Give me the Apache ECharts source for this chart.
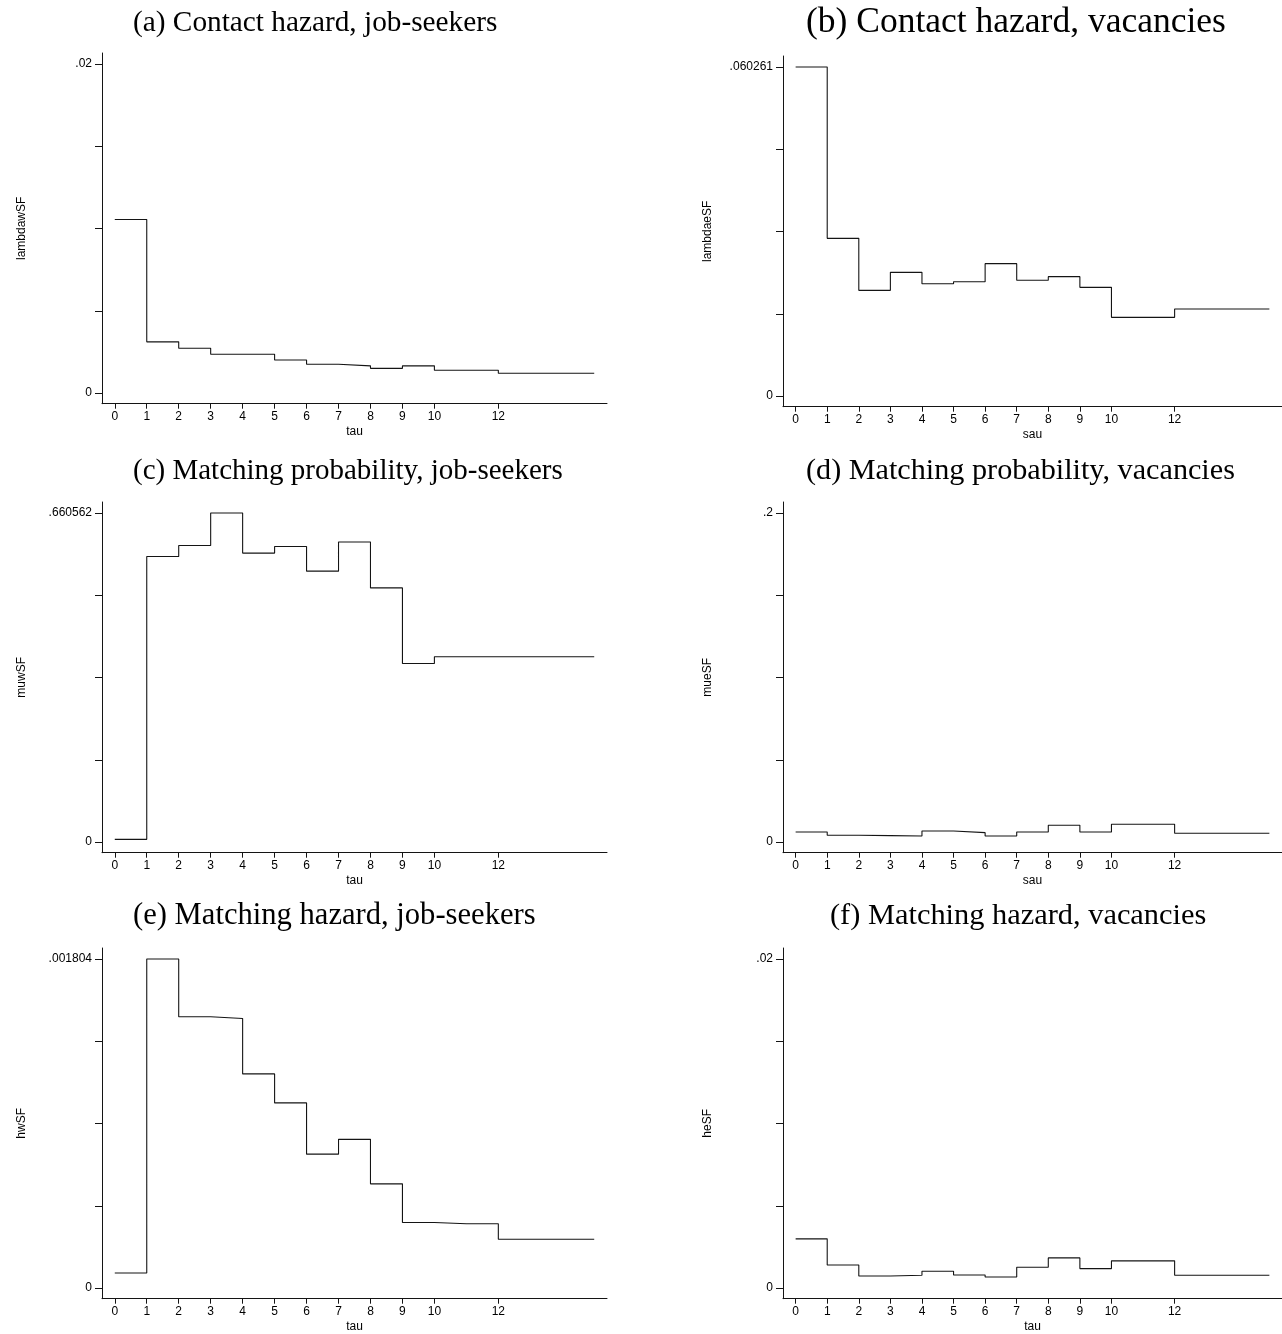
<!DOCTYPE html>
<html>
<head>
<meta charset="utf-8">
<script src="https://cdn.jsdelivr.net/npm/echarts@6/dist/echarts.min.js"></script>
<style>
html,body{margin:0;padding:0;background:#fff;}
#chart{width:1282px;height:1334px;}
</style>
</head>
<body>
<div id="chart"></div>
<script>
// ---- data ----
const tauValues = [0,1,2,3,4,5,6,7,8,9,10,11,12,13,14,15];
const xTickLabels = [0,1,2,3,4,5,6,7,8,9,10,12];

const lambdawSF = [0.01055,0.00311,0.00272,0.00236,0.00236,0.00201,0.00175,0.00165,0.00150,0.00165,0.00138,0.00138,0.00120,0.00120,0.00120,0.00120];
const lambdaeSF = [0.060261,0.02888,0.01935,0.02265,0.02057,0.02094,0.02424,0.02119,0.02186,0.01990,0.01441,0.01441,0.01593,0.01593,0.01593,0.01593];
const muwSF = [0.00537,0.5733,0.5954,0.660562,0.5800,0.5934,0.5438,0.6022,0.5102,0.3585,0.3719,0.3719,0.3719,0.3719,0.3719,0.3719];
const mueSF = [0.00609,0.00406,0.00386,0.00365,0.00670,0.00569,0.00365,0.00609,0.01015,0.00609,0.01076,0.01076,0.00528,0.00528,0.00528,0.00528];
const hwSF = [0.0000824,0.001804,0.001487,0.001478,0.001174,0.001015,0.000734,0.000815,0.000571,0.000359,0.000352,0.000352,0.000267,0.000267,0.000267,0.000267];
const heSF = [0.002988,0.001402,0.000732,0.000772,0.001016,0.000793,0.000671,0.00126,0.00183,0.00118,0.00165,0.00165,0.000772,0.000772,0.000772,0.000772];

const yTopValues = [0.02, 0.060261, 0.660562, 0.2, 0.001804, 0.02];
const yTopLabels = ['.02', '.060261', '.660562', '.2', '.001804', '.02'];
const panelTitles = ['(a) Contact hazard, job-seekers','(b) Contact hazard, vacancies','(c) Matching probability, job-seekers','(d) Matching probability, vacancies','(e) Matching hazard, job-seekers','(f) Matching hazard, vacancies'];
const yNames = ['lambdawSF','lambdaeSF','muwSF','mueSF','hwSF','heSF'];
const xNames = ['tau','sau','tau','sau','tau','tau'];

// ---- layout ----
const seriesList = [lambdawSF, lambdaeSF, muwSF, mueSF, hwSF, heSF];
const gridLeft = [102, 783];
const gridTop = [53, 56, 502, 502, 948, 948];
const titleLeft = [133, 806, 133, 806, 133, 830];
const titleY = [23, 23, 471, 471, 916, 916];
const titleSize = [29.3, 35.5, 29, 30.2, 30.6, 30.4];
const zeroToTop = 329;
const padBottom = 10.7, padTop = 11;
const ink = '#141414';
const sans = 'Liberation Sans, Arial, Helvetica, sans-serif';

const grids = [], xAxes = [], yAxes = [], series = [], graphics = [];
for (let i = 0; i < 6; i++) {
  const col = i % 2;
  const T = yTopValues[i];
  grids.push({left: gridLeft[col], top: gridTop[i], width: 505, height: zeroToTop + padBottom + padTop, containLabel: false});
  xAxes.push({
    type: 'value', gridIndex: i, min: -0.4, max: 15.4,
    name: xNames[i], nameLocation: 'middle', nameGap: 22,
    nameTextStyle: {fontFamily: sans, fontSize: 12, color: '#000'},
    axisLine: {onZero: false, lineStyle: {color: ink, width: 1}},
    axisTick: {show: true, length: 5, customValues: xTickLabels, lineStyle: {color: ink}},
    axisLabel: {customValues: xTickLabels, fontFamily: sans, fontSize: 12, color: '#000', margin: 7},
    splitLine: {show: false}
  });
  const ticks = [0, T/4, T/2, 3*T/4, T];
  yAxes.push({
    type: 'value', gridIndex: i,
    min: -T * padBottom / zeroToTop, max: T + T * padTop / zeroToTop,
    name: yNames[i], nameLocation: 'middle', nameGap: col === 0 ? 74 : 69,
    nameTextStyle: {fontFamily: sans, fontSize: 12, color: '#000'},
    axisLine: {show: true, onZero: false, lineStyle: {color: ink, width: 1}},
    axisTick: {show: true, length: 7, customValues: ticks, lineStyle: {color: ink}},
    axisLabel: {customValues: [0, T], fontFamily: sans, fontSize: 12, color: '#000', margin: 10,
      formatter: (v) => (v === 0 ? '0' : yTopLabels[i])},
    splitLine: {show: false}
  });
  series.push({
    type: 'line', xAxisIndex: i, yAxisIndex: i, step: 'end',
    showSymbol: false, symbol: 'none', animation: false,
    lineStyle: {color: ink, width: 1.1},
    data: tauValues.map((t, k) => [t, seriesList[i][k]])
  });
  graphics.push({
    type: 'text', x: titleLeft[i], y: titleY[i],
    style: {text: panelTitles[i], fontFamily: 'Liberation Serif, Times New Roman, serif', fontSize: titleSize[i], fill: '#000', verticalAlign: 'middle', align: 'left'}
  });
}

const chart = echarts.init(document.getElementById('chart'), null, {renderer: 'canvas'});
chart.setOption({
  backgroundColor: '#fff',
  animation: false,
  grid: grids, xAxis: xAxes, yAxis: yAxes, series: series,
  graphic: graphics
});
</script>
</body>
</html>
